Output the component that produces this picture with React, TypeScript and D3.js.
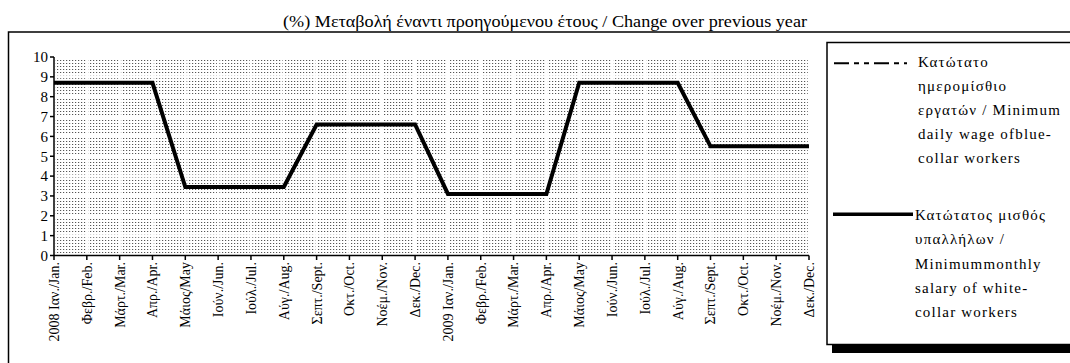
import React from "react";
import * as d3 from "d3";

const monthLabels = [
  "2008 Ιαν./Jan.", "Φεβρ./Feb.", "Μάρτ./Mar.", "Απρ./Apr.", "Μάιος/May", "Ιούν./Jun.",
  "Ιούλ./Jul.", "Αύγ./Aug.", "Σεπτ./Sept.", "Οκτ./Oct.", "Νοέμ./Nov.", "Δεκ./Dec.",
  "2009 Ιαν./Jan.", "Φεβρ./Feb.", "Μάρτ./Mar.", "Απρ./Apr.", "Μάιος/May", "Ιούν./Jun.",
  "Ιούλ./Jul.", "Αύγ./Aug.", "Σεπτ./Sept.", "Οκτ./Oct.", "Νοέμ./Nov.", "Δεκ./Dec.",
];
const blueCollarDaily = [
  8.7, 8.7, 8.7, 8.7, 3.45, 3.45, 3.45, 3.45, 6.6, 6.6, 6.6, 6.6,
  3.1, 3.1, 3.1, 3.1, 8.7, 8.7, 8.7, 8.7, 5.5, 5.5, 5.5, 5.5,
];
const whiteCollarMonthly = [
  8.7, 8.7, 8.7, 8.7, 3.45, 3.45, 3.45, 3.45, 6.6, 6.6, 6.6, 6.6,
  3.1, 3.1, 3.1, 3.1, 8.7, 8.7, 8.7, 8.7, 5.5, 5.5, 5.5, 5.5,
];
const yTicks = [0, 1, 2, 3, 4, 5, 6, 7, 8, 9, 10];
const title = "(%) Μεταβολή έναντι προηγούμενου έτους / Change over previous year";
const legendBlue = ["Κατώτατο", "ημερομίσθιο", "εργατών / Minimum", "daily wage ofblue-", "collar workers"];
const legendWhite = ["Κατώτατος μισθός", "υπαλλήλων /", "Minimummonthly", "salary of white-", "collar workers"];

const FONT = "Liberation Serif, Times New Roman, Times, serif";

export default function App() {
  const idx = monthLabels.map((_, i) => i);
  const x = d3.scalePoint<number>().domain(idx).range([54, 809]);
  const y = d3.scaleLinear().domain([0, 10]).range([255.5, 57]);
  const line = d3
    .line<number>()
    .x((_, i) => x(i) as number)
    .y((d) => y(d));

  return (
    <svg
      width={1070}
      height={363}
      style={{ position: "fixed", left: 0, top: 0, background: "#fff", fontFamily: FONT }}
    >
      <defs>
        <pattern id="dots" width={3} height={3} patternUnits="userSpaceOnUse">
          <rect width={3} height={3} fill="#ffffff" />
          <rect x={0} y={0} width={1.2} height={1} fill="#555" />
        </pattern>
      </defs>

      {/* outer frame */}
      <rect x={8.5} y={32} width={1100} height={400} fill="none" stroke="#000" strokeWidth={1.5} />

      {/* title */}
      <text x={283} y={27} fontSize={16} textLength={524} lengthAdjust="spacingAndGlyphs" fill="#000">
        {title}
      </text>

      {/* plot background pattern */}
      <rect x={x(0)} y={y(10)} width={(x(23) as number) - (x(0) as number) + 1} height={y(0) - y(10)} fill="url(#dots)" />
      {/* white grid */}
      {yTicks.map((t) => (
        <line key={"gy" + t} x1={x(0)} x2={(x(23) as number) + 1} y1={y(t)} y2={y(t)} stroke="#fff" strokeWidth={3} />
      ))}
      {idx.map((i) => (
        <line key={"gx" + i} x1={x(i)} x2={x(i)} y1={y(10)} y2={y(0)} stroke="#fff" strokeWidth={2.5} />
      ))}

      {/* axes */}
      <line x1={54} x2={54} y1={y(10)} y2={y(0)} stroke="#000" strokeWidth={1.5} />
      {yTicks.map((t) => (
        <g key={"yt" + t}>
          <line x1={50} x2={54} y1={y(t)} y2={y(t)} stroke="#000" strokeWidth={1.5} />
          <text x={48} y={y(t)} dy="0.35em" textAnchor="end" fontSize={15} fill="#000">
            {t}
          </text>
        </g>
      ))}
      <line x1={x(0)} x2={x(23)} y1={y(0)} y2={y(0)} stroke="#000" strokeWidth={1.5} />
      {idx.map((i) => (
        <g key={"xt" + i}>
          <line x1={x(i)} x2={x(i)} y1={y(0)} y2={y(0) + 4.5} stroke="#000" strokeWidth={1.5} />
          <text
            transform={`translate(${x(i)},${262}) rotate(-90)`}
            dy="0.35em"
            textAnchor="end"
            fontSize={14}
            fill="#000"
          >
            {monthLabels[i]}
          </text>
        </g>
      ))}

      {/* series */}
      <path d={line(blueCollarDaily) || ""} fill="none" stroke="#000" strokeWidth={2} strokeDasharray="15 5 5 5 5 5" />
      <path d={line(whiteCollarMonthly) || ""} fill="none" stroke="#000" strokeWidth={4} strokeLinejoin="miter" />

      {/* legend */}
      <rect x={832} y={344} width={300} height={9} fill="#000" />
      <rect x={827} y={42.5} width={300} height={302} fill="#fff" stroke="#000" strokeWidth={1.5} />
      <line x1={834} x2={907} y1={63.3} y2={63.3} stroke="#000" strokeWidth={2} strokeDasharray="15 5 5 5 5 5" />
      {legendBlue.map((s, i) => (
        <text key={"lb" + i} x={918} y={67 + i * 24} fontSize={15} letterSpacing={1.2} fill="#000">
          {s}
        </text>
      ))}
      <line x1={833} x2={913} y1={214.3} y2={214.3} stroke="#000" strokeWidth={3.5} />
      {legendWhite.map((s, i) => (
        <text key={"lw" + i} x={915} y={220 + i * 24.3} fontSize={15} letterSpacing={1.2} fill="#000">
          {s}
        </text>
      ))}
    </svg>
  );
}
